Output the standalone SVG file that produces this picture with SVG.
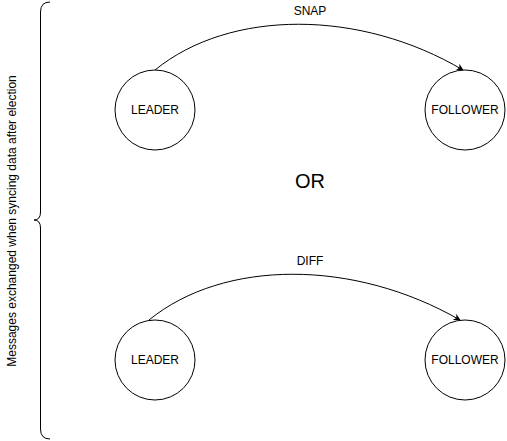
<svg xmlns="http://www.w3.org/2000/svg" width="507" height="441" viewBox="0 0 507 441">
<defs>
<marker id="arr" viewBox="0 0 10 10" refX="9" refY="5" markerWidth="7" markerHeight="7" markerUnits="userSpaceOnUse" orient="auto">
<path d="M0,0 L10,5 L0,10 L3,5 z" fill="#000"/>
</marker>
</defs>
<style>
.node circle{fill:#fff;stroke:#000;stroke-width:1}
.t{font-family:"Liberation Sans",Arial,sans-serif;font-size:12px;fill:#000;text-anchor:middle;dominant-baseline:central}
.edge{fill:none;stroke:#000;stroke-width:1}
</style>
<rect width="507" height="441" fill="#fff"/>
<g id="brace">
<path class="edge" d="M50,2 Q40.5,2 40.5,12 L40.5,212 Q40.5,220 34,220 Q40.5,220 40.5,228 L40.5,429 Q40.5,439 50,439"/>
<text class="t" transform="translate(12,221) rotate(-90)">Messages exchanged when syncing data after election</text>
</g>
<g id="connectors">
<path class="edge" d="M155,70 C230,9 360,9 463,70" marker-end="url(#arr)"/>
<text class="t" x="310" y="11">SNAP</text>
<path class="edge" d="M149,320 C224,259 354,259 460,320" marker-end="url(#arr)"/>
<text class="t" x="310" y="261">DIFF</text>
</g>
<g id="leader1" class="node"><circle cx="155" cy="110" r="40"/><text class="t" x="155" y="110">LEADER</text></g>
<g id="follower1" class="node"><circle cx="465" cy="110" r="40"/><text class="t" x="465" y="110">FOLLOWER</text></g>
<g id="or"><text class="t" x="310" y="181" style="font-size:20px">OR</text></g>
<g id="leader2" class="node"><circle cx="155" cy="360" r="40"/><text class="t" x="155" y="360">LEADER</text></g>
<g id="follower2" class="node"><circle cx="465" cy="360" r="40"/><text class="t" x="465" y="360">FOLLOWER</text></g>
</svg>
